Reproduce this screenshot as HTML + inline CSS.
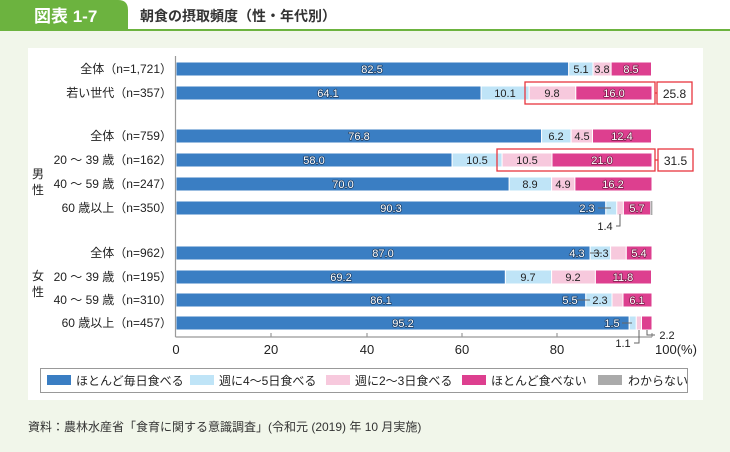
<!DOCTYPE html>
<html><head><meta charset="utf-8"><style>
html,body{margin:0;padding:0;}
body{width:730px;height:452px;background:#f1f6ea;position:relative;overflow:hidden;font-family:"Liberation Sans","Noto Sans CJK JP",sans-serif;}
</style></head><body>
<svg width="730" height="452" viewBox="0 0 730 452" xmlns="http://www.w3.org/2000/svg" style="position:absolute;left:0;top:0;font-family:'Liberation Sans','Noto Sans CJK JP',sans-serif">
<rect x="0" y="0" width="730" height="30" fill="#ffffff"/>
<path d="M0 0 H118 Q128 0 128 10 V30 H0 Z" fill="#6cb33f"/>
<rect x="0" y="29" width="730" height="2" fill="#6cb33f"/>
<text x="34" y="22" font-size="17" font-weight="bold" fill="#fff">図表 1-7</text>
<text x="140" y="21" font-size="14" font-weight="bold" fill="#333">朝食の摂取頻度（性・年代別）</text>
<rect x="28" y="48" width="675" height="352" fill="#ffffff"/>

<g font-size="12" fill="#222" text-anchor="end">
<text x="172" y="73">全体（n=1,721）</text>
<text x="172" y="97">若い世代（n=357）</text>
<text x="172" y="140">全体（n=759）</text>
<text x="172" y="164">20 ～ 39 歳（n=162）</text>
<text x="172" y="188">40 ～ 59 歳（n=247）</text>
<text x="172" y="212">60 歳以上（n=350）</text>
<text x="172" y="257">全体（n=962）</text>
<text x="172" y="281">20 ～ 39 歳（n=195）</text>
<text x="172" y="304">40 ～ 59 歳（n=310）</text>
<text x="172" y="327">60 歳以上（n=457）</text>
</g>
<g font-size="12" fill="#222" text-anchor="middle">
<text x="38" y="178">男</text><text x="38" y="194">性</text>
<text x="38" y="280">女</text><text x="38" y="296">性</text>
</g>

<g stroke="#fff" stroke-width="1">
<rect x="176" y="62" width="392.7" height="14" fill="#3a7ec3"/>
<rect x="568.7" y="62" width="24.3" height="14" fill="#bfe4f7"/>
<rect x="593" y="62" width="18.1" height="14" fill="#f7c9dd"/>
<rect x="611.1" y="62" width="40.4" height="14" fill="#dd3f8f"/>
<rect x="176" y="86" width="305.1" height="14" fill="#3a7ec3"/>
<rect x="481.1" y="86" width="48.1" height="14" fill="#bfe4f7"/>
<rect x="529.2" y="86" width="46.6" height="14" fill="#f7c9dd"/>
<rect x="575.8" y="86" width="76.2" height="14" fill="#dd3f8f"/>
<rect x="176" y="129" width="365.6" height="14" fill="#3a7ec3"/>
<rect x="541.6" y="129" width="29.5" height="14" fill="#bfe4f7"/>
<rect x="571.1" y="129" width="21.4" height="14" fill="#f7c9dd"/>
<rect x="592.5" y="129" width="59" height="14" fill="#dd3f8f"/>
<rect x="176" y="153" width="276.1" height="14" fill="#3a7ec3"/>
<rect x="452.1" y="153" width="50" height="14" fill="#bfe4f7"/>
<rect x="502.1" y="153" width="49.9" height="14" fill="#f7c9dd"/>
<rect x="552" y="153" width="100" height="14" fill="#dd3f8f"/>
<rect x="176" y="177" width="333.2" height="14" fill="#3a7ec3"/>
<rect x="509.2" y="177" width="42.4" height="14" fill="#bfe4f7"/>
<rect x="551.6" y="177" width="23.3" height="14" fill="#f7c9dd"/>
<rect x="574.9" y="177" width="77.1" height="14" fill="#dd3f8f"/>
<rect x="176" y="201" width="429.8" height="14" fill="#3a7ec3"/>
<rect x="605.8" y="201" width="11" height="14" fill="#bfe4f7"/>
<rect x="616.8" y="201" width="6.6" height="14" fill="#f7c9dd"/>
<rect x="623.4" y="201" width="27.2" height="14" fill="#dd3f8f"/>
<rect x="650.6" y="201" width="1.8" height="14" fill="#aaaaaa" stroke="none"/>
<rect x="176" y="246" width="414.1" height="14" fill="#3a7ec3"/>
<rect x="590.1" y="246" width="20.5" height="14" fill="#bfe4f7"/>
<rect x="610.6" y="246" width="15.7" height="14" fill="#f7c9dd"/>
<rect x="626.3" y="246" width="25.7" height="14" fill="#dd3f8f"/>
<rect x="176" y="270" width="329.4" height="14" fill="#3a7ec3"/>
<rect x="505.4" y="270" width="46.2" height="14" fill="#bfe4f7"/>
<rect x="551.6" y="270" width="43.8" height="14" fill="#f7c9dd"/>
<rect x="595.4" y="270" width="56.1" height="14" fill="#dd3f8f"/>
<rect x="176" y="293" width="409.8" height="14" fill="#3a7ec3"/>
<rect x="585.8" y="293" width="26.2" height="14" fill="#bfe4f7"/>
<rect x="612" y="293" width="11" height="14" fill="#f7c9dd"/>
<rect x="623" y="293" width="29" height="14" fill="#dd3f8f"/>
<rect x="176" y="316" width="453.2" height="14" fill="#3a7ec3"/>
<rect x="629.2" y="316" width="7.1" height="14" fill="#bfe4f7"/>
<rect x="636.3" y="316" width="5.2" height="14" fill="#f7c9dd"/>
<rect x="641.5" y="316" width="10.5" height="14" fill="#dd3f8f"/>
</g>

<g stroke="#999" stroke-width="1.2" fill="none">
<line x1="175.5" y1="56" x2="175.5" y2="337"/>
<line x1="175.5" y1="337" x2="652" y2="337"/>
<line x1="271" y1="333" x2="271" y2="337"/>
<line x1="367" y1="333" x2="367" y2="337"/>
<line x1="462" y1="333" x2="462" y2="337"/>
<line x1="557" y1="333" x2="557" y2="337"/>
<line x1="652" y1="333" x2="652" y2="337"/>
</g>
<g font-size="13" fill="#222" text-anchor="middle">
<text x="176" y="354">0</text><text x="271" y="354">20</text><text x="367" y="354">40</text>
<text x="462" y="354">60</text><text x="557" y="354">80</text><text x="676" y="354">100(%)</text>
</g>

<g fill="none" stroke="#e8353f" stroke-width="1.3">
<rect x="525" y="82" width="130" height="22"/>
<rect x="657" y="82" width="35" height="22"/>
<line x1="655" y1="93" x2="657" y2="93"/>
<rect x="497" y="149" width="158" height="22"/>
<rect x="658" y="149" width="35" height="22"/>
<line x1="655" y1="160" x2="658" y2="160"/>
</g>
<g font-size="12" fill="#222" text-anchor="middle">
<text x="674.5" y="98">25.8</text>
<text x="675.5" y="165">31.5</text>
</g>

<g stroke="#666" stroke-width="1" fill="none">
<line x1="598" y1="208" x2="611" y2="208"/>
<path d="M620 214 V226 H616"/>
<line x1="590" y1="253" x2="602" y2="253"/>
<line x1="574" y1="300" x2="590" y2="300"/>
<line x1="622" y1="323" x2="632" y2="323"/>
<path d="M639 330 V343 H634"/>
<path d="M647 330 V335 H655"/>
</g>

<g font-size="11" fill="#fff" stroke="#1d3f66" stroke-width="1.5" paint-order="stroke" text-anchor="middle" stroke-linejoin="round">
<text x="372" y="73">82.5</text>
<text x="328" y="97">64.1</text>
<text x="359" y="140">76.8</text>
<text x="314" y="164">58.0</text>
<text x="343" y="188">70.0</text>
<text x="391" y="212">90.3</text>
<text x="383" y="257">87.0</text>
<text x="341" y="281">69.2</text>
<text x="381" y="304">86.1</text>
<text x="403" y="327">95.2</text>
<text x="587" y="212">2.3</text>
<text x="577" y="257">4.3</text>
<text x="570" y="304">5.5</text>
<text x="612" y="327">1.5</text>
</g>
<g font-size="11" fill="#fff" stroke="#7a1a48" stroke-width="1.5" paint-order="stroke" text-anchor="middle" stroke-linejoin="round">
<text x="631" y="73">8.5</text>
<text x="614" y="97">16.0</text>
<text x="622" y="140">12.4</text>
<text x="602" y="164">21.0</text>
<text x="613" y="188">16.2</text>
<text x="637" y="212">5.7</text>
<text x="639" y="257">5.4</text>
<text x="623" y="281">11.8</text>
<text x="637" y="304">6.1</text>
</g>
<g font-size="11" fill="#222" text-anchor="middle">
<text x="581" y="73">5.1</text>
<text x="602" y="73">3.8</text>
<text x="505" y="97">10.1</text>
<text x="552" y="97">9.8</text>
<text x="556" y="140">6.2</text>
<text x="582" y="140">4.5</text>
<text x="477" y="164">10.5</text>
<text x="527" y="164">10.5</text>
<text x="530" y="188">8.9</text>
<text x="563" y="188">4.9</text>
<text x="605" y="230">1.4</text>
<text x="601" y="257">3.3</text>
<text x="528" y="281">9.7</text>
<text x="573" y="281">9.2</text>
<text x="600" y="304">2.3</text>
<text x="623" y="347">1.1</text>
<text x="667" y="339">2.2</text>
</g>

<rect x="40.5" y="368.5" width="647" height="24" fill="#fff" stroke="#999"/>
<g font-size="12" fill="#222">
<rect x="47" y="375" width="24" height="10" fill="#3a7ec3"/><text x="76" y="385">ほとんど毎日食べる</text>
<rect x="190" y="375" width="24" height="10" fill="#bfe4f7"/><text x="219" y="385">週に4～5日食べる</text>
<rect x="326" y="375" width="24" height="10" fill="#f7c9dd"/><text x="355" y="385">週に2～3日食べる</text>
<rect x="462" y="375" width="24" height="10" fill="#dd3f8f"/><text x="491" y="385">ほとんど食べない</text>
<rect x="598" y="375" width="24" height="10" fill="#aaaaaa"/><text x="628" y="385">わからない</text>
</g>

<text x="28" y="431" font-size="12" fill="#333">資料：農林水産省「食育に関する意識調査」(令和元 (2019) 年 10 月実施)</text>
</svg>
</body></html>
